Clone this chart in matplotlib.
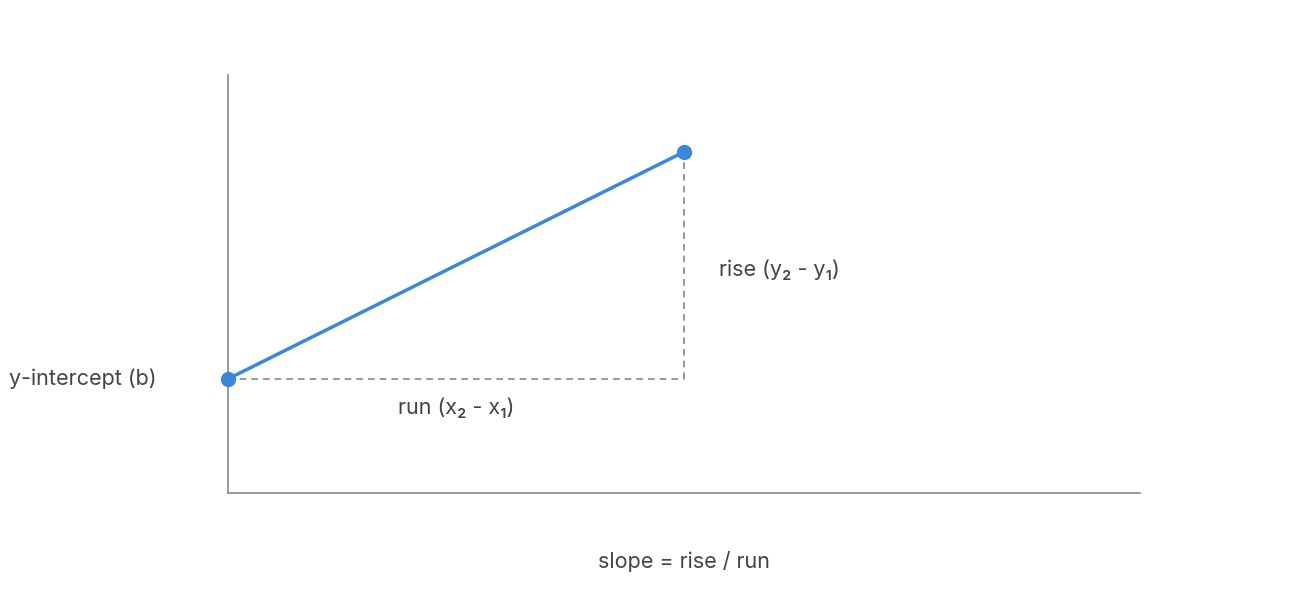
import matplotlib.pyplot as plt

# two points of the line (data units)
x_pts = [0, 5]
y_pts = [2.73, 8.16]
x_max = 10
y_max = 10

label_intercept = "y-intercept (b)"
label_rise = "rise (y₂ - y₁)"
label_run = "run (x₂ - x₁)"
label_slope = "slope = rise / run"

plt.rcParams['font.family'] = ['Inter', 'DejaVu Sans']

fig = plt.figure(figsize=(12.92, 6.08), dpi=100)
ax = fig.add_axes([228 / 1292, 115 / 608, 912 / 1292, 418 / 608])
ax.set_xlim(0, x_max)
ax.set_ylim(0, y_max)

for s in ["top", "right"]:
    ax.spines[s].set_visible(False)
for s in ["left", "bottom"]:
    ax.spines[s].set_color("#888888")
    ax.spines[s].set_linewidth(1.2)
ax.set_xticks([])
ax.set_yticks([])

txt = "#444444"
gray = "#888888"
blue = "#3a87dc"

# dashed helper lines
ax.plot([x_pts[0], x_pts[1]], [y_pts[0], y_pts[0]], ls=(0, (4, 3)), color=gray, lw=1.2, clip_on=False)
ax.plot([x_pts[1], x_pts[1]], [y_pts[0], y_pts[1]], ls=(0, (4, 3)), color=gray, lw=1.2, clip_on=False)

ax.plot(x_pts, y_pts, color=blue, lw=2.5, marker="o", markersize=10, clip_on=False, zorder=5)

fs = 15.5
ax.text(-0.78, y_pts[0], label_intercept, ha="right", va="center", fontsize=fs, color=txt)
ax.text(x_pts[1] + 0.38, 5.33, label_rise, ha="left", va="center", fontsize=fs, color=txt)
ax.text(x_pts[1] / 2, y_pts[0] - 0.7, label_run, ha="center", va="center", fontsize=fs, color=txt)
ax.text(0.5, -0.165, label_slope, transform=ax.transAxes, ha="center", va="center", fontsize=fs, color=txt)

fig.savefig("out.png", dpi=100)
